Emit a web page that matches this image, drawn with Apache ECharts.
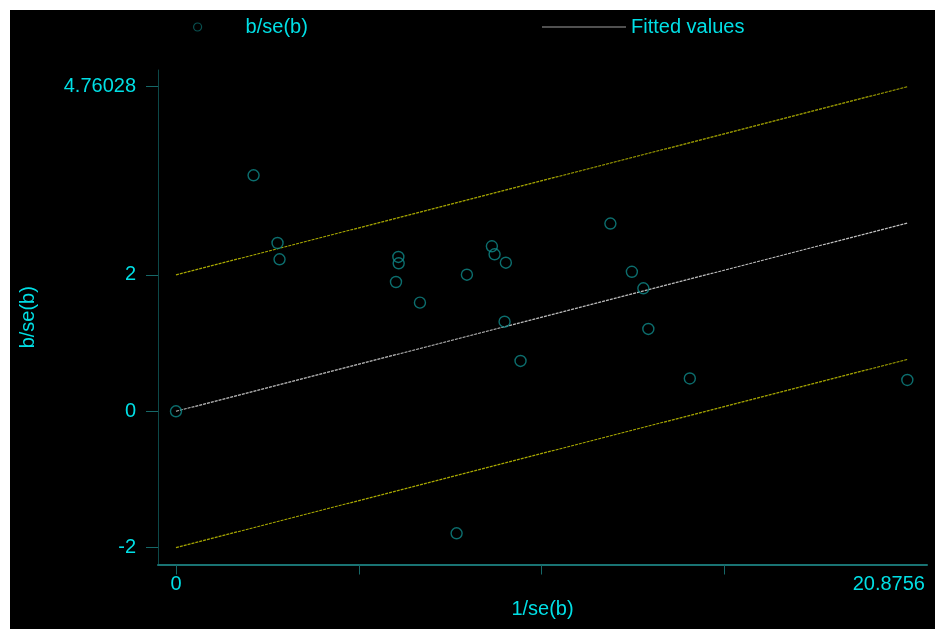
<!DOCTYPE html>
<html>
<head>
<meta charset="utf-8">
<script src="https://cdn.jsdelivr.net/npm/echarts@6/dist/echarts.min.js"></script>
<style>
  html, body { margin: 0; padding: 0; background: #ffffff; }
  #chart { position: absolute; left: 10px; top: 10px; width: 925px; height: 619px; }
</style>
</head>
<body>
<div id="chart"></div>
<script>
// Galbraith plot: standardised effect b/se(b) against precision 1/se(b)
const precision = [0, 2.215, 2.899, 2.956, 6.348, 6.357, 6.280, 6.964, 8.010, 8.304, 9.017,
                   9.094, 9.416, 9.379, 9.835, 12.400, 13.013, 13.341, 13.483, 14.667, 20.8756];
const zScores   = [0, 3.461, 2.468, 2.229, 2.263, 2.170, 1.896, 1.593, -1.789, 2.003, 2.420,
                   2.302, 2.179, 1.314, 0.738, 2.753, 2.046, 1.804, 1.207, 0.481, 0.459];

// Regression line through the origin and the +/-2 band around it
const lineX     = [0, 20.8756];
const fitted    = [0, 2.76028];
const upperBand = [2, 4.76028];
const lowerBand = [-2, 0.76028];

const xTickValues  = [0, 5.2189, 10.4378, 15.6567];
const xLabelValues = [0, 20.8756];
const xLabelTexts  = ['0', '20.8756'];
const yTickValues  = [-2, 0, 2, 4.76028];
const yLabelTexts  = ['-2', '0', '2', '4.76028'];

const FONT = "'Liberation Sans', Arial, sans-serif";
const TEXT = '#00dfe5';

const zip = (a, b) => a.map((v, i) => [v, b[i]]);

const chart = echarts.init(document.getElementById('chart'), null, { renderer: 'canvas' });
chart.setOption({
  backgroundColor: '#000000',
  animation: false,
  textStyle: { fontFamily: FONT },
  grid: { left: 147, right: 8, top: 60, bottom: 64.5, containLabel: false },
  legend: [
    {
      data: ['b/se(b)'], left: 183, top: 7, padding: 0,
      itemWidth: 86, itemHeight: 8,
      itemStyle: { color: 'transparent', borderColor: '#0b6464', borderWidth: 1.2 },
      textStyle: { color: TEXT, fontSize: 20, fontFamily: FONT }
    },
    {
      data: [{ name: 'Fitted values', icon: 'rect' }], left: 532, top: 7, padding: 0,
      itemWidth: 84, itemHeight: 2,
      itemStyle: { color: '#505050', borderWidth: 0 },
      textStyle: { color: TEXT, fontSize: 20, fontFamily: FONT }
    }
  ],
  xAxis: {
    type: 'value', min: -0.513, max: 21.437,
    name: '1/se(b)', nameLocation: 'middle', nameGap: 33,
    nameTextStyle: { color: TEXT, fontSize: 20, fontFamily: FONT },
    axisLine: { show: true, onZero: false, lineStyle: { color: '#197373', width: 2 } },
    axisTick: { show: true, length: 10, customValues: xTickValues, lineStyle: { color: '#166868', width: 1 } },
    axisLabel: {
      show: true, margin: 10, customValues: xLabelValues,
      color: TEXT, fontSize: 20, fontFamily: FONT,
      formatter: v => {
        const i = xLabelValues.indexOf(v);
        const t = i >= 0 ? xLabelTexts[i] : String(v);
        return i === xLabelValues.length - 1 ? '{r|' + t + '}' : t;
      },
      rich: { r: { color: TEXT, fontSize: 20, fontFamily: FONT, padding: [0, 37, 0, 0] } }
    },
    splitLine: { show: false }
  },
  yAxis: {
    type: 'value', min: -2.247, max: 5.005,
    name: 'b/se(b)', nameLocation: 'middle', nameGap: 120,
    nameTextStyle: { color: TEXT, fontSize: 20, fontFamily: FONT },
    axisLine: { show: true, onZero: false, lineStyle: { color: '#0c4848', width: 1 } },
    axisTick: { show: true, length: 12, customValues: yTickValues, lineStyle: { color: '#166868', width: 1 } },
    axisLabel: {
      show: true, margin: 22, customValues: yTickValues,
      color: TEXT, fontSize: 20, fontFamily: FONT,
      formatter: v => {
        const i = yTickValues.indexOf(v);
        return i >= 0 ? yLabelTexts[i] : String(v);
      }
    },
    splitLine: { show: false }
  },
  series: [
    {
      name: 'upper', type: 'line', data: zip(lineX, upperBand), symbol: 'none', silent: true,
      lineStyle: { color: '#a6a600', width: 1.2, type: [3, 1] }, z: 2
    },
    {
      name: 'lower', type: 'line', data: zip(lineX, lowerBand), symbol: 'none', silent: true,
      lineStyle: { color: '#a6a600', width: 1.2, type: [3, 1] }, z: 2
    },
    {
      name: 'Fitted values', type: 'line', data: zip(lineX, fitted), symbol: 'none', silent: true,
      lineStyle: { color: '#bdbdbd', width: 1.2, type: [3, 1] }, z: 2
    },
    {
      name: 'b/se(b)', type: 'scatter', data: zip(precision, zScores),
      symbol: 'circle', symbolSize: 11,
      itemStyle: { color: 'transparent', borderColor: '#0f8a8a', borderWidth: 1.4 }, z: 3
    }
  ]
});
</script>
</body>
</html>
